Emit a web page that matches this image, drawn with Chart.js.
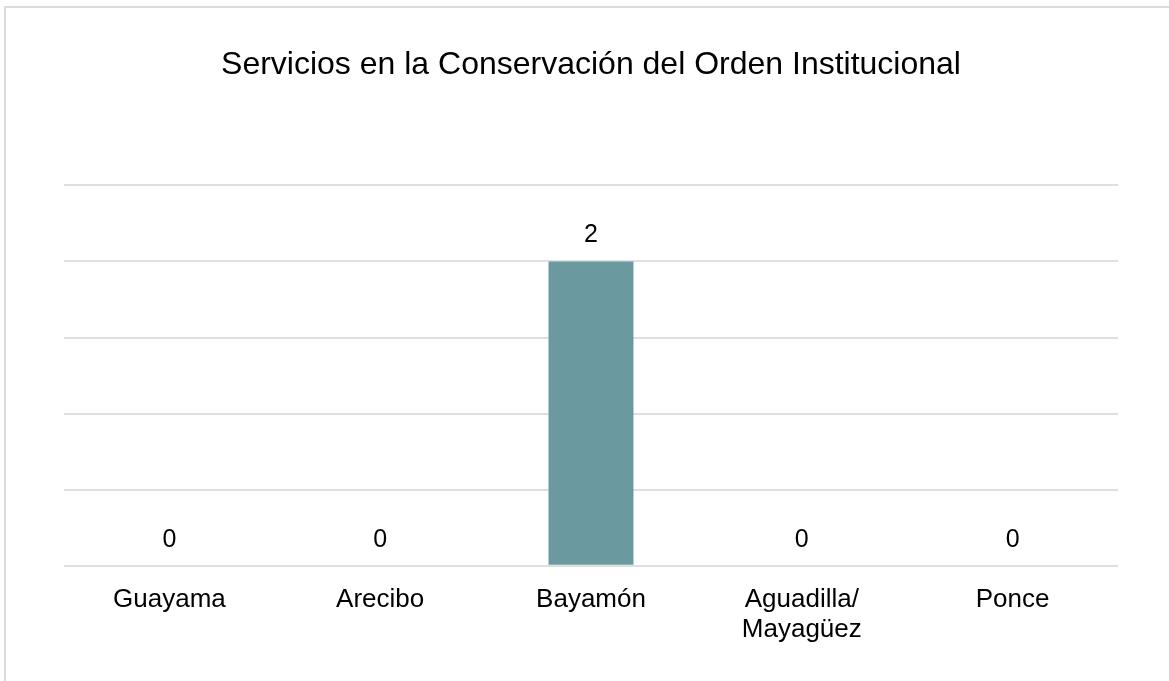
<!DOCTYPE html>
<html>
<head>
<meta charset="utf-8">
<script src="https://cdn.jsdelivr.net/npm/chart.js@4.4.0/dist/chart.umd.min.js"></script>
<style>
    html, body { margin: 0; padding: 0; background: #fff; overflow: hidden; }
    .chart-box {
        position: absolute;
        left: 4px;
        top: 6px;
        border-left: 2px solid #dcdcdc;
        border-top: 2px solid #dcdcdc;
    }
    .chart-box canvas { display: block; }
</style>
</head>
<body>
<div class="chart-box">
    <canvas id="ordenChart" width="1166" height="673"></canvas>
</div>
<script>
var categories = ['Guayama', 'Arecibo', 'Bayamón', ['Aguadilla/', 'Mayagüez'], 'Ponce'];
var servicios = [0, 0, 2, 0, 0];
var yMax = 2.5;
var yStep = 0.5;

var fontFamily = '"Liberation Sans", Arial, sans-serif';

// etiquetas de valor encima de cada barra
var valueLabels = {
    id: 'valueLabels',
    afterDatasetsDraw: function (chart) {
        var ctx = chart.ctx;
        var meta = chart.getDatasetMeta(0);
        ctx.save();
        ctx.font = '25px ' + fontFamily;
        ctx.fillStyle = '#000';
        ctx.textAlign = 'center';
        ctx.textBaseline = 'middle';
        meta.data.forEach(function (bar, i) {
            ctx.fillText(String(servicios[i]), bar.x, bar.y - 26);
        });
        ctx.restore();
    }
};

function addBarChart(selector) {
    var ctx = document.querySelector(selector);
    var chart = new Chart(ctx, {
        type: 'bar',
        data: {
            labels: categories,
            datasets: [{
                data: servicios,
                backgroundColor: '#6a9a9f',
                borderWidth: 0,
                categoryPercentage: 1,
                barPercentage: 0.403
            }]
        },
        options: {
            responsive: false,
            animation: false,
            layout: {
                padding: { left: 58, right: 54, top: 0, bottom: 25 }
            },
            plugins: {
                legend: { display: false },
                tooltip: { enabled: false },
                title: {
                    display: true,
                    text: 'Servicios en la Conservación del Orden Institucional',
                    color: '#000',
                    font: { family: fontFamily, size: 32, weight: 'normal', lineHeight: 1.2 },
                    padding: { top: 38, bottom: 101 }
                }
            },
            scales: {
                x: {
                    grid: { display: false },
                    border: { display: false },
                    ticks: {
                        color: '#000',
                        padding: 12,
                        maxRotation: 0,
                        autoSkip: false,
                        font: { family: fontFamily, size: 26, lineHeight: 1.12 }
                    }
                },
                y: {
                    min: 0,
                    max: yMax,
                    border: { display: false },
                    grid: { color: '#dfdfdf', lineWidth: 2, drawTicks: false },
                    ticks: { display: false, stepSize: yStep }
                }
            }
        },
        plugins: [valueLabels]
    });
}

addBarChart('#ordenChart');
</script>
</body>
</html>
